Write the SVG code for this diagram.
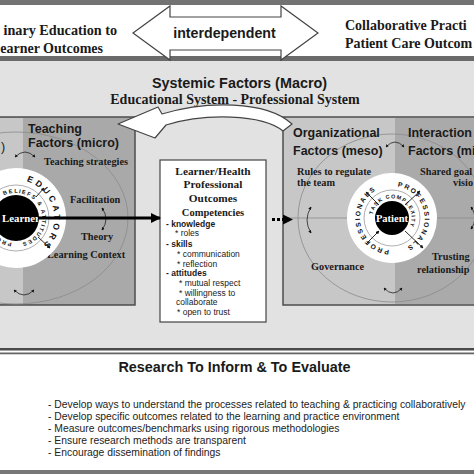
<svg xmlns="http://www.w3.org/2000/svg" width="474" height="474" viewBox="0 0 474 474">
<style>
.serif{font-family:"Liberation Serif","Times New Roman",serif;font-weight:bold;fill:#1a1a1a}
.sans{font-family:"Liberation Sans",Arial,sans-serif;fill:#1a1a1a}
.b{font-weight:bold}
.thin{fill:none;stroke:#8a8a8a;stroke-width:0.8}
.carr{fill:none;stroke:#222;stroke-width:0.8;marker-start:url(#ah);marker-end:url(#ah)}
.ring{font-family:"Liberation Sans",Arial,sans-serif;font-weight:bold;fill:#111}
.rad{stroke:#111;stroke-width:0.9;marker-end:url(#ah)}
</style>
<defs>
<marker id="ah" viewBox="0 0 6 6" refX="5" refY="3" markerWidth="4" markerHeight="4" orient="auto-start-reverse"><path d="M0,0 L6,3 L0,6 z" fill="#111"/></marker>
<marker id="big" viewBox="0 0 10 10" refX="9" refY="5" markerWidth="3.4" markerHeight="3.4" orient="auto"><path d="M0,0 L10,5 L0,10 z" fill="#000"/></marker>
<path id="learnerIn" d="M 11.7,242.6 A 25 25 0 1 1 20.3,193.4 A 25 25 0 1 1 11.7,242.6"/>
<path id="learnerOut" d="M 26.4,181.3 A 38 38 0 1 1 5.6,254.7 A 38 38 0 1 1 26.4,181.3"/>
<path id="patIn" d="M 372.8,214.6 A 19.5 19.5 0 1 1 411.2,221.4 A 19.5 19.5 0 1 1 372.8,214.6"/>
<path id="patOut1" d="M 397.6,186.5 A 32 32 0 1 1 386.4,249.5 A 32 32 0 1 1 397.6,186.5"/>
<path id="patOut2" d="M 389.2,249.9 A 32 32 0 1 1 394.8,186.1 A 32 32 0 1 1 389.2,249.9"/>
</defs>

<!-- bands -->
<rect x="0" y="0" width="474" height="474" fill="#ffffff"/>
<rect x="0" y="0" width="474" height="5" fill="#737373"/>
<rect x="0" y="56" width="474" height="5" fill="#6a6a6a"/>
<rect x="0" y="61" width="474" height="287" fill="#e2e2e2"/>
<rect x="0" y="348" width="474" height="2.5" fill="#4a4a4a"/>
<rect x="0" y="352.5" width="474" height="1.8" fill="#666"/>
<rect x="0" y="470" width="474" height="4" fill="#777"/>

<!-- top row -->
<g id="top-left-label">
<text class="serif" x="117" y="35" font-size="14.2" text-anchor="end">inary Education to</text>
<text class="serif" x="103" y="53" font-size="14" text-anchor="end">earner Outcomes</text>
</g>
<g id="interdependent">
<polygon points="133,33 170,6 170,17 281,17 281,6 318,33 281,60 281,50 170,50 170,60" fill="#fff" stroke="#444" stroke-width="1.2"/>
<text class="sans b" x="224.5" y="38" font-size="14.2" text-anchor="middle">interdependent</text>
</g>
<g id="top-right-label">
<text class="serif" x="345" y="30" font-size="14">Collaborative Practi</text>
<text class="serif" x="345" y="48" font-size="14">Patient Care Outcom</text>
</g>

<g id="macro-title">
<text class="sans b" x="239.5" y="88" font-size="14.4" text-anchor="middle">Systemic Factors (Macro)</text>
<text class="serif" x="235" y="104" font-size="14" text-anchor="middle">Educational System - Professional System</text>
</g>

<!-- left panel -->
<g id="teaching-panel">
<rect x="-2" y="117" width="137" height="188" fill="#a9a9a9" stroke="#4d4d4d" stroke-width="1.5"/>
<rect x="0" y="118" width="23" height="186" fill="#c7c7c7"/>
<ellipse class="thin" cx="16" cy="218" rx="112" ry="86"/>
<text class="sans" x="1" y="151" font-size="12.5">)</text>
<text class="sans b" x="28" y="133" font-size="12.5">Teaching</text>
<text class="sans b" x="28" y="147" font-size="12.5">Factors (micro)</text>
<text class="serif" x="44" y="165" font-size="10.3">Teaching strategies</text>
<text class="serif" x="70" y="203" font-size="10.3">Facilitation</text>
<text class="serif" x="81" y="240" font-size="10.3">Theory</text>
<text class="serif" x="47" y="258" font-size="10.3">Learning Context</text>
<path class="carr" d="M 15,157 Q 25,147 35,157"/>
<path class="carr" d="M 14,290 Q 24,300 34,290"/>
<path class="carr" d="M 102,208 Q 110,219 102,230"/>
</g>

<g id="learner">
<circle cx="16" cy="218" r="50" fill="#fff"/>
<circle cx="16" cy="218" r="33" fill="none" stroke="#999" stroke-width="0.8"/>
<circle cx="16" cy="218" r="23" fill="#000"/>
<line class="rad" x1="36" y1="197" x2="44" y2="188"/>
<line class="rad" x1="38" y1="237" x2="50" y2="248"/>
<text class="ring" font-size="5.6"><textPath href="#learnerIn" textLength="150" lengthAdjust="spacing">PROFESSIONAL BELIEFS &amp; ATTITUDES</textPath></text>
<text class="ring" font-size="8.5" letter-spacing="3.2"><textPath href="#learnerOut">EDUCATORS</textPath></text>
<text class="serif" x="21" y="222" font-size="10.8" style="fill:#fff" text-anchor="middle">Learner</text>
</g>

<!-- right panel -->
<g id="organizational-panel">
<rect x="283" y="117" width="193" height="188" fill="#c7c7c7" stroke="#4d4d4d" stroke-width="1.5"/>
<rect x="395" y="118" width="80" height="186" fill="#aaaaaa"/>
<line x1="283" y1="218" x2="474" y2="218" stroke="#8a8a8a" stroke-width="0.8"/>
<ellipse class="thin" cx="392" cy="218" rx="94" ry="84"/>
<text class="sans b" x="293" y="137" font-size="12.5">Organizational</text>
<text class="sans b" x="293" y="155" font-size="12.5">Factors (meso)</text>
<text class="sans b" x="408" y="137" font-size="12.5">Interaction</text>
<text class="sans b" x="408" y="155" font-size="12.5">Factors (mi</text>
<text class="serif" x="297" y="175" font-size="10.3">Rules to regulate</text>
<text class="serif" x="297" y="186" font-size="10.3">the team</text>
<text class="serif" x="420" y="175" font-size="10.3">Shared goal</text>
<text class="serif" x="453" y="186" font-size="10.3">visio</text>
<text class="serif" x="311" y="270" font-size="10.3">Governance</text>
<text class="serif" x="432" y="260" font-size="10.3">Trusting</text>
<text class="serif" x="417" y="273" font-size="10.3">relationship</text>
<path class="carr" d="M 386,147 Q 395,137 404,147"/>
<path class="carr" d="M 384,288 Q 393,298 402,288"/>
<path class="carr" d="M 311,207 Q 303,220 311,233"/>
<path class="carr" d="M 471,207 Q 479,218 471,229"/>
</g>

<g id="patient">
<circle cx="392" cy="218" r="45" fill="#fff"/>
<circle cx="392" cy="218" r="28" fill="none" stroke="#999" stroke-width="0.8"/>
<circle cx="392" cy="218" r="17" fill="#000"/>
<line class="rad" x1="379" y1="205" x2="366" y2="192"/>
<line class="rad" x1="405" y1="205" x2="420" y2="191"/>
<line class="rad" x1="405" y1="231" x2="423" y2="248"/>
<line class="rad" x1="366" y1="244" x2="379" y2="231"/>
<text class="ring" font-size="5.4"><textPath href="#patIn" textLength="66" lengthAdjust="spacing">TASK COMPLEXITY</textPath></text>
<text class="ring" font-size="6.8"><textPath href="#patOut1" textLength="80" lengthAdjust="spacing">PROFESSIONALS</textPath></text>
<text class="ring" font-size="6.8"><textPath href="#patOut2" textLength="80" lengthAdjust="spacing">PROFESSIONALS</textPath></text>
<text class="serif" x="392" y="222" font-size="10.5" style="fill:#fff" text-anchor="middle">Patient</text>
</g>

<!-- outcomes box -->
<g id="outcomes">
<rect x="160" y="160" width="106" height="162" fill="#fff" stroke="#444" stroke-width="1.2"/>
<text class="serif" x="213" y="175" font-size="11.3" text-anchor="middle">Learner/Health</text>
<text class="serif" x="213" y="188" font-size="11.3" text-anchor="middle">Professional</text>
<text class="serif" x="213" y="202" font-size="11.3" text-anchor="middle">Outcomes</text>
<text class="serif" x="213" y="216" font-size="10.5" text-anchor="middle">Competencies</text>
<g class="sans" font-size="8.5">
<text class="b" x="166" y="227">- knowledge</text>
<text x="175" y="236">* roles</text>
<text class="b" x="166" y="247">- skills</text>
<text x="177" y="257">* communication</text>
<text x="177" y="267">* reflection</text>
<text class="b" x="166" y="276">- attitudes</text>
<text x="179" y="286">* mutual respect</text>
<text x="179" y="296">* willingness to</text>
<text x="176" y="305">collaborate</text>
<text x="177" y="315">* open to trust</text>
</g>
</g>

<!-- connectors -->
<g id="connectors">
<line x1="38" y1="218" x2="160" y2="218" stroke="#000" stroke-width="3" marker-end="url(#big)"/>
<line x1="272" y1="219.5" x2="292" y2="219.5" stroke="#000" stroke-width="3" stroke-dasharray="3,2" marker-end="url(#big)"/>
<path d="M 118,124 L 158,107 L 162,114 C 205,101 266,100 292,124 L 283,131 C 262,114 205,113 166,125 L 155,138 Z" fill="#fff" stroke="#444" stroke-width="1.2" stroke-linejoin="round"/>
</g>

<!-- research -->
<g id="research">
<text class="sans b" x="234.5" y="372" font-size="14.4" text-anchor="middle">Research To Inform &amp; To Evaluate</text>
<g class="sans" font-size="10.35" style="fill:#222">
<text x="48" y="408">- Develop ways to understand the processes related to teaching &amp; practicing collaboratively</text>
<text x="48" y="420">- Develop specific outcomes related to the learning and practice environment</text>
<text x="48" y="432">- Measure outcomes/benchmarks using rigorous methodologies</text>
<text x="48" y="444">- Ensure research methods are transparent</text>
<text x="48" y="456">- Encourage dissemination of findings</text>
</g>
</g>
</svg>
